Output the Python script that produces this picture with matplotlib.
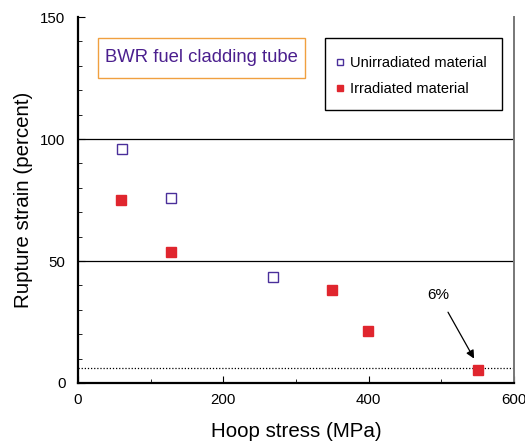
import matplotlib
matplotlib.use("Agg")
import matplotlib.pyplot as plt
from matplotlib.patches import Rectangle
from matplotlib.ticker import MultipleLocator

plt.rcParams['font.family'] = ['Liberation Sans', 'DejaVu Sans']

# data
unirr_stress = [60, 128, 268]
unirr_strain = [96, 76, 43.5]
irr_stress = [59, 128, 349, 399, 551]
irr_strain = [75, 53.5, 38, 21.5, 5.5]
limit_strain = 6

fig = plt.figure(figsize=(5.25, 4.42), dpi=100)
ax = fig.add_axes([0.1486, 0.1335, 0.8305, 0.828])

ax.axhline(100, color='black', lw=0.9, zorder=1)
ax.axhline(50, color='black', lw=0.9, zorder=1)
ax.axhline(limit_strain, color='black', lw=0.9, ls=(0, (1, 1.5)), zorder=1)

ax.plot(unirr_stress, unirr_strain, 's', ms=7, mfc='white', mec='#4a2f9a', mew=1.0,
        ls='none', label='Unirradiated material', zorder=3)
ax.plot(irr_stress, irr_strain, 's', ms=7.5, mfc='#e0262e', mec='#e0262e',
        ls='none', label='Irradiated material', zorder=3)

ax.annotate('6%', xy=(545, 10), xytext=(496, 36), fontsize=11, ha='center', va='center',
            arrowprops=dict(arrowstyle='-|>', color='black', lw=0.9, mutation_scale=12,
                            shrinkA=6, shrinkB=0))

# title box
ax.add_patch(Rectangle((0.0459, 0.8333), 0.4747, 0.1093, transform=ax.transAxes,
                       fc='white', ec='#f0a040', lw=1.0, zorder=4))
ax.text(0.283, 0.889, 'BWR fuel cladding tube', transform=ax.transAxes, fontsize=13.3,
        color='#4b1f8e', va='center', ha='center', zorder=5)

# legend box drawn by hand, legend itself without frame
ax.add_patch(Rectangle((0.5665, 0.746), 0.406, 0.1966, transform=ax.transAxes,
                       fc='white', ec='black', lw=1.0, zorder=4))
leg = ax.legend(loc='center left', bbox_to_anchor=(0.591, 0.839), borderaxespad=0,
                fontsize=10.5, frameon=False, markerscale=0.6, handlelength=0.6,
                handletextpad=0.35, borderpad=0, labelspacing=0.8)
leg.set_zorder(5)

ax.set_xlim(0, 600)
ax.set_ylim(0, 150)
ax.xaxis.set_major_locator(MultipleLocator(200))
ax.xaxis.set_minor_locator(MultipleLocator(100))
ax.yaxis.set_major_locator(MultipleLocator(50))
ax.yaxis.set_minor_locator(MultipleLocator(10))
ax.tick_params(which='both', direction='in', labelsize=10.8, top=False, right=False)
ax.tick_params(which='major', length=5, width=0.8)
ax.tick_params(which='minor', length=3, width=0.6)
ax.tick_params(axis='x', which='major', pad=7)
ax.tick_params(axis='y', which='major', pad=9)

ax.spines['top'].set_visible(False)
ax.spines['left'].set_linewidth(1.6)
ax.spines['bottom'].set_linewidth(1.6)
ax.spines['right'].set_color('#777777')
ax.spines['right'].set_linewidth(1.4)

ax.set_xlabel('Hoop stress (MPa)', fontsize=14.8, labelpad=11)
ax.set_ylabel('Rupture strain (percent)', fontsize=14.8, labelpad=5)

plt.savefig('out.png', dpi=100)
